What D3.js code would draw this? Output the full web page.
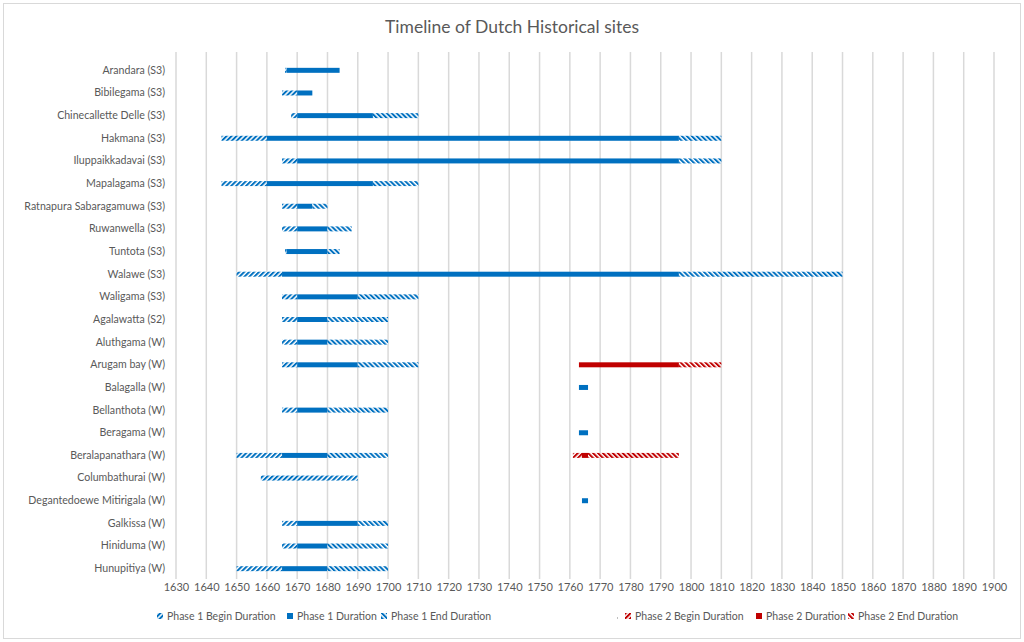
<!DOCTYPE html>
<html>
<head>
<meta charset="utf-8">
<script src="https://cdn.jsdelivr.net/npm/d3@7"></script>
<style>
  html, body { margin: 0; padding: 0; background: #fff; }
  svg text { font-family: Lato, "Open Sans", sans-serif; fill: #595959; }
</style>
</head>
<body>
<svg id="chart" width="1024" height="642"></svg>
<script>
const title = "Timeline of Dutch Historical sites";
const categories = [
  "Arandara (S3)", "Bibilegama (S3)", "Chinecallette Delle (S3)", "Hakmana (S3)",
  "Iluppaikkadavai (S3)", "Mapalagama (S3)", "Ratnapura Sabaragamuwa (S3)", "Ruwanwella (S3)",
  "Tuntota (S3)", "Walawe (S3)", "Waligama (S3)", "Agalawatta (S2)", "Aluthgama (W)",
  "Arugam bay (W)", "Balagalla (W)", "Bellanthota (W)", "Beragama (W)", "Beralapanathara (W)",
  "Columbathurai (W)", "Degantedoewe Mitirigala (W)", "Galkissa (W)", "Hiniduma (W)", "Hunupitiya (W)"
];
// Phase 1: start year, begin duration, duration, end duration
const p1Start = [1666, 1665, 1668, 1645, 1665, 1645, 1665, 1665, 1666, 1650, 1665, 1665, 1665, 1665, 1763, 1665, 1763, 1650, 1658, 1764, 1665, 1665, 1650];
const p1Begin = [0.5, 5, 2, 15, 5, 15, 5, 5, 0.5, 15, 5, 5, 5, 5, 0, 5, 0, 15, 32, 0, 5, 5, 15];
const p1Dur   = [17.5, 5, 25, 136, 126, 35, 5, 10, 13.5, 131, 20, 10, 10, 20, 3, 10, 3, 15, 0, 2, 20, 10, 15];
const p1End   = [0, 0, 15, 14, 14, 15, 5, 8, 4, 54, 20, 20, 20, 20, 0, 20, 0, 20, 0, 0, 10, 20, 20];
// Phase 2: start year, begin duration, duration, end duration (null = no phase 2)
const p2Start = [null, null, null, null, null, null, null, null, null, null, null, null, null, 1763, null, null, null, 1761, null, null, null, null, null];
const p2Begin = [null, null, null, null, null, null, null, null, null, null, null, null, null, 0, null, null, null, 3, null, null, null, null, null];
const p2Dur   = [null, null, null, null, null, null, null, null, null, null, null, null, null, 33, null, null, null, 2, null, null, null, null, null];
const p2End   = [null, null, null, null, null, null, null, null, null, null, null, null, null, 14, null, null, null, 30, null, null, null, null, null];
const xTicks = d3.range(1630, 1901, 10);
const seriesNames = ["Phase 1 Begin Duration", "Phase 1 Duration", "Phase 1 End Duration",
                     "Phase 2 Begin Duration", "Phase 2 Duration", "Phase 2 End Duration"];

const BLUE = "#0070C0", RED = "#C00000";
const svg = d3.select("#chart");

// border
svg.append("rect").attr("x", 3.5).attr("y", 3.5).attr("width", 1017).attr("height", 635)
  .attr("fill", "#fff").attr("stroke", "#d9d9d9").attr("stroke-width", 1);

// patterns
const defs = svg.append("defs");
function hatch(id, color, angle) {
  const p = defs.append("pattern").attr("id", id).attr("patternUnits", "userSpaceOnUse")
    .attr("width", 3.5).attr("height", 4).attr("patternTransform", `rotate(${angle})`);
  p.append("rect").attr("width", 3.5).attr("height", 4).attr("fill", "#fff");
  p.append("rect").attr("width", 2).attr("height", 4).attr("fill", color);
}
hatch("p1b", BLUE, 45); hatch("p1e", BLUE, -45);
hatch("p2b", RED, 45); hatch("p2e", RED, -45);
const fills = ["url(#p1b)", BLUE, "url(#p1e)", "url(#p2b)", RED, "url(#p2e)"];

const x = d3.scaleLinear().domain([1630, 1900]).range([176, 994]);
const y = d3.scaleBand().domain(categories).range([59, 580]).paddingInner(0.78).paddingOuter(0.39);

// title
svg.append("text").attr("x", 512).attr("y", 33).attr("text-anchor", "middle")
  .style("font-size", "17.5px").text(title);

// gridlines
svg.append("g").selectAll("line").data(xTicks).join("line")
  .attr("x1", d => x(d)).attr("x2", d => x(d)).attr("y1", 52).attr("y2", 579)
  .attr("stroke", "#d9d9d9").attr("stroke-width", 1.5);

// x axis labels
const xAxis = d3.axisBottom(x).tickValues(xTicks).tickFormat(d3.format("d")).tickSize(0).tickPadding(0);
const gx = svg.append("g").attr("transform", "translate(0,583)").call(xAxis);
gx.select(".domain").remove();
gx.selectAll("text").style("font-size", "11px").attr("fill", "#595959").attr("dy", "0.71em");

// y axis labels
const yAxis = d3.axisLeft(y).tickSize(0).tickPadding(0);
const gy = svg.append("g").attr("transform", "translate(165,0)").call(yAxis);
gy.select(".domain").remove();
gy.selectAll("text").style("font-size", "10.6px").attr("fill", "#595959");

// bars
const segs = [];
categories.forEach((c, i) => {
  let cur = p1Start[i];
  [p1Begin[i], p1Dur[i], p1End[i]].forEach((v, k) => {
    if (v > 0) segs.push({ c, x0: cur, x1: cur + v, fill: fills[k] });
    cur += v;
  });
  if (p2Start[i] !== null) {
    let cur2 = p2Start[i];
    [p2Begin[i], p2Dur[i], p2End[i]].forEach((v, k) => {
      if (v > 0) segs.push({ c, x0: cur2, x1: cur2 + v, fill: fills[3 + k] });
      cur2 += v;
    });
  }
});
svg.append("g").selectAll("rect").data(segs).join("rect")
  .attr("x", d => x(d.x0)).attr("width", d => x(d.x1) - x(d.x0))
  .attr("y", d => y(d.c)).attr("height", y.bandwidth())
  .attr("fill", d => d.fill);

// legend
const legendX = [157, 287, 381, 625, 756, 848];
const lg = svg.append("g");
seriesNames.forEach((n, i) => {
  lg.append("rect").attr("x", legendX[i]).attr("y", 613).attr("width", 6).attr("height", 6)
    .attr("fill", fills[i]);
  lg.append("text").attr("x", legendX[i] + 10).attr("y", 620).style("font-size", "10.5px").text(n);
});
// legend entry of invisible phase 2 start series
lg.append("rect").attr("x", 617).attr("y", 617).attr("width", 1).attr("height", 2).attr("fill", "#bfbfbf");
</script>
</body>
</html>
